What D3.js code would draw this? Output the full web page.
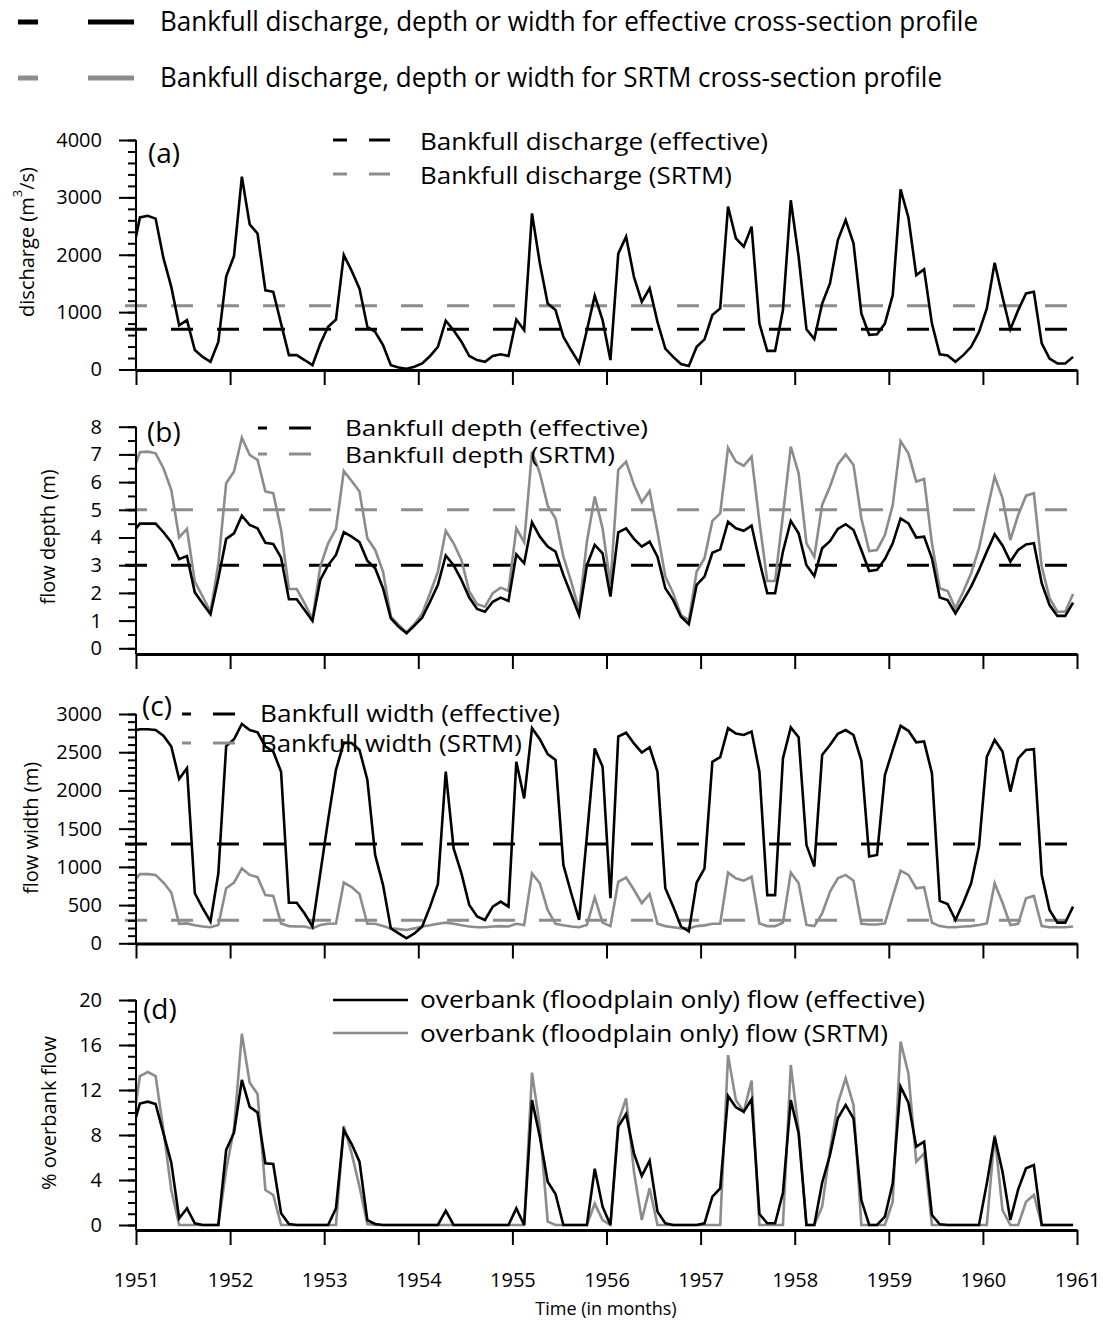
<!DOCTYPE html>
<html>
<head>
<meta charset="utf-8">
<script src="https://cdn.jsdelivr.net/npm/d3@7"></script>
<style>
  body { margin: 0; background: #fff; }
  svg { display: block; font-family: "Open Sans", sans-serif; }
</style>
</head>
<body>
<script>
// monthly values, mid-month; first entry is Dec 1950 (only its segment into Jan 1951 shows)
var discharge = [1980,
  2650, 2680, 2630, 1940, 1440, 770, 860, 340, 220, 135, 480, 1620,
  1980, 3360, 2530, 2370, 1380, 1355, 800, 250, 250, 165, 75, 450,
  745, 870, 1995, 1720, 1410, 745, 655, 425, 75, 35, 12, 47,
  105, 235, 395, 850, 685, 485, 235, 165, 135, 235, 265, 235,
  870, 685, 2720, 1850, 1150, 1035, 570, 335, 115, 685, 1285, 860,
  165, 2020, 2315, 1615, 1180, 1415, 830, 365, 220, 95, 60, 395,
  525, 950, 1065, 2840, 2285, 2140, 2490, 800, 325, 325, 1035, 2950,
  1965, 700, 530, 1150, 1500, 2255, 2605, 2200, 975, 605, 615, 800,
  1295, 3140, 2650, 1645, 1745, 800, 265, 245, 135, 250, 395, 655,
  1065, 1860, 1265, 700, 1035, 1325, 1355, 455, 190, 105, 105, 220];

var depthEff = [4.16,
  4.5, 4.5, 4.5, 4.19, 3.83, 3.22, 3.33, 2.02, 1.62, 1.23, 2.53, 3.95,
  4.15, 4.79, 4.45, 4.33, 3.81, 3.77, 3.27, 1.77, 1.77, 1.38, 0.99, 2.47,
  3.0, 3.37, 4.19, 4.03, 3.83, 3.16, 2.89, 2.17, 1.08, 0.78, 0.54, 0.82,
  1.11, 1.68, 2.29, 3.35, 3.0, 2.47, 1.83, 1.42, 1.32, 1.68, 1.83, 1.71,
  3.39, 3.07, 4.55, 4.03, 3.67, 3.49, 2.65, 1.93, 1.2, 3.0, 3.73, 3.43,
  1.87, 4.19, 4.33, 3.95, 3.67, 3.85, 3.31, 2.17, 1.74, 1.14, 0.87, 2.29,
  2.59, 3.45, 3.57, 4.57, 4.33, 4.24, 4.43, 3.15, 1.99, 1.99, 3.49, 4.6,
  4.15, 3.0, 2.61, 3.61, 3.87, 4.31, 4.48, 4.27, 3.55, 2.79, 2.83, 3.22,
  3.79, 4.69, 4.51, 4.0, 4.03, 3.25, 1.83, 1.74, 1.26, 1.74, 2.23, 2.83,
  3.49, 4.12, 3.71, 3.13, 3.55, 3.75, 3.79, 2.35, 1.56, 1.17, 1.17, 1.65];

var depthSrtm = [6.28,
  7.08, 7.1, 7.04, 6.5, 5.72, 4.0, 4.31, 2.41, 1.87, 1.32, 3.05, 5.96,
  6.38, 7.6, 6.98, 6.8, 5.66, 5.6, 4.27, 2.14, 2.14, 1.62, 1.06, 2.95,
  3.79, 4.31, 6.4, 6.04, 5.66, 3.97, 3.55, 2.77, 1.14, 0.84, 0.58, 0.87,
  1.26, 1.99, 2.77, 4.24, 3.79, 3.19, 2.05, 1.59, 1.5, 1.99, 2.19, 2.07,
  4.33, 3.83, 7.1, 6.32, 5.15, 4.69, 3.31, 2.41, 1.38, 3.85, 5.48, 4.33,
  2.3, 6.44, 6.74, 5.9, 5.27, 5.68, 4.21, 2.59, 1.99, 1.2, 1.02, 2.77,
  3.25, 4.6, 4.87, 7.24, 6.74, 6.59, 6.92, 4.57, 2.43, 2.43, 4.81, 7.28,
  6.32, 3.79, 3.31, 5.17, 5.84, 6.64, 7.0, 6.62, 4.69, 3.51, 3.55, 4.09,
  5.17, 7.48, 7.04, 6.02, 6.11, 3.79, 2.17, 2.07, 1.44, 2.05, 2.71, 3.61,
  4.93, 6.2, 5.42, 3.91, 4.81, 5.51, 5.6, 2.95, 1.81, 1.32, 1.32, 1.96];

var widthEff = [2780,
  2800, 2800, 2790, 2715, 2575, 2150, 2290, 655, 460, 285, 915, 2580,
  2670, 2870, 2790, 2760, 2575, 2510, 2245, 530, 530, 390, 220, 915,
  1615, 2270, 2625, 2620, 2530, 2140, 1155, 765, 195, 130, 65, 130,
  220, 480, 775, 2245, 1245, 915, 500, 350, 305, 480, 545, 480,
  2375, 1895, 2815, 2670, 2475, 2400, 1025, 655, 305, 1400, 2550, 2310,
  590, 2705, 2755, 2615, 2495, 2565, 2245, 720, 480, 220, 155, 795,
  980, 2375, 2435, 2815, 2745, 2725, 2770, 2245, 630, 630, 2420, 2825,
  2695, 1285, 1005, 2465, 2595, 2740, 2790, 2725, 2390, 1135, 1155, 2200,
  2530, 2845, 2780, 2630, 2640, 2225, 555, 515, 305, 530, 785, 1265,
  2440, 2660, 2510, 1985, 2420, 2530, 2540, 895, 435, 270, 270, 480];

var widthSrtm = [790,
  905, 905, 895, 795, 665, 255, 260, 235, 220, 210, 240, 720,
  795, 980, 895, 865, 630, 620, 260, 225, 220, 220, 195, 240,
  255, 260, 795, 735, 645, 255, 255, 225, 195, 185, 175, 195,
  220, 235, 255, 270, 255, 235, 220, 210, 210, 220, 225, 220,
  255, 240, 915, 785, 435, 255, 235, 220, 210, 240, 600, 270,
  225, 805, 860, 700, 525, 645, 255, 225, 210, 195, 195, 225,
  235, 255, 255, 925, 850, 820, 870, 260, 225, 225, 270, 925,
  785, 240, 225, 390, 675, 850, 895, 820, 255, 245, 245, 260,
  610, 950, 895, 720, 735, 270, 225, 210, 210, 220, 225, 240,
  260, 785, 530, 240, 255, 590, 620, 225, 210, 210, 210, 220];

var overEff = [8.4,
  10.8, 10.96, 10.76, 8.15, 5.54, 0.6, 1.48, 0.15, 0, 0, 0, 6.67,
  8.2, 12.9, 10.5, 10.0, 5.48, 5.42, 1.04, 0.09, 0, 0, 0, 0,
  0, 1.48, 8.44, 7.2, 5.63, 0.44, 0.09, 0, 0, 0, 0, 0,
  0, 0, 0, 1.27, 0, 0, 0, 0, 0, 0, 0, 0,
  1.48, 0, 11.1, 7.85, 3.85, 2.76, 0, 0, 0, 0, 5.0, 1.63,
  0, 8.74, 9.87, 6.37, 4.36, 5.72, 1.19, 0.15, 0, 0, 0, 0,
  0.15, 2.52, 3.26, 11.47, 10.46, 10.07, 11.17, 0.98, 0.15, 0.15, 2.87, 11.11,
  8.15, 0, 0, 3.76, 6.22, 9.48, 10.67, 9.48, 2.22, 0, 0, 0.74,
  3.7, 12.3, 10.87, 6.96, 7.4, 0.89, 0.06, 0, 0, 0, 0, 0,
  3.7, 7.85, 4.74, 0.44, 3.17, 5.04, 5.33, 0, 0, 0, 0, 0];

var overSrtm = [8.4,
  13.24, 13.6, 13.24, 8.44, 3.11, 0, 0, 0, 0, 0, 0, 4.89,
  8.6, 17.0, 12.65, 11.64, 3.11, 2.67, 0, 0, 0, 0, 0, 0,
  0, 0, 8.8, 6.37, 3.41, 0.09, 0, 0, 0, 0, 0, 0,
  0, 0, 0, 0, 0, 0, 0, 0, 0, 0, 0, 0,
  0, 0, 13.54, 8.74, 0.3, 0, 0, 0, 0, 0, 1.9, 0.44,
  0, 9.19, 11.26, 4.74, 0.44, 3.26, 0, 0, 0, 0, 0, 0,
  0, 0, 0, 15.1, 11.1, 10.07, 12.83, 0, 0, 0, 0, 14.22,
  8.44, 0, 0, 1.63, 6.67, 10.81, 13.04, 10.67, 0, 0, 0, 0,
  2.07, 16.3, 13.48, 5.63, 6.37, 0, 0, 0, 0, 0, 0, 0,
  0, 8.0, 1.33, 0, 0, 2.07, 2.67, 0, 0, 0, 0, 0];

// bankfull thresholds [effective, SRTM]
var bankQ = [700, 1110];
var bankD = [3, 5];
var bankW = [1300, 300];

var years = d3.range(1951, 1962);
var months = discharge.map(function(d, i) { return 1951 + (i - 0.5) / 12; });

var black = "#000", grey = "#8c8c8c";

var svg = d3.select("body").append("svg")
    .attr("width", 1103)
    .attr("height", 1321);

var x = d3.scaleLinear().domain([1951, 1961]).range([136, 1077]);

var panels = [
  { tag: "(a)", top: 140, zero: 369.5, axisY: 370, max: 4000, major: 1000, minor: 200,
    series: [discharge], colors: [black], bank: bankQ, titleX: 26, titleY: 242,
    title: ["discharge (m", "3", "/s)"], labelX: 148, labelY: 163,
    legend: { x0: 333, x1: 390, tx: 420, ly: [140, 174], ty: [150, 184], off: 8, solid: false, fs: 23,
      text: ["Bankfull discharge (effective)", "Bankfull discharge (SRTM)"], tl: [348, 312] } },
  { tag: "(b)", top: 426.7, zero: 648.3, axisY: 654, max: 8, major: 1, minor: 0.5,
    series: [depthSrtm, depthEff], colors: [grey, black], bank: bankD, titleX: 47, titleY: 537,
    title: ["flow depth (m)"], labelX: 147, labelY: 442,
    legend: { x0: 258, x1: 313, tx: 345, ly: [428, 454], ty: [436, 463], off: 13, solid: false, fs: 21,
      text: ["Bankfull depth (effective)", "Bankfull depth (SRTM)"], tl: [303, 270] } },
  { tag: "(c)", top: 714, zero: 943.3, axisY: 943.5, max: 3000, major: 500, minor: 100,
    series: [widthSrtm, widthEff], colors: [grey, black], bank: bankW, titleX: 30, titleY: 828,
    title: ["flow width (m)"], labelX: 142, labelY: 716,
    legend: { x0: 182, x1: 238, tx: 260, ly: [714, 743], ty: [722, 752], off: 13, solid: false, fs: 23,
      text: ["Bankfull width (effective)", "Bankfull width (SRTM)"], tl: [300, 262] } },
  { tag: "(d)", top: 1000, zero: 1225, axisY: 1230, max: 20, major: 4, minor: 1,
    series: [overSrtm, overEff], colors: [grey, black], bank: null, titleX: 48, titleY: 1113,
    title: ["% overbank flow"], labelX: 143, labelY: 1019,
    legend: { x0: 333, x1: 408, tx: 420, ly: [1000, 1033], ty: [1008, 1042], off: 0, solid: true, fs: 23,
      text: ["overbank (floodplain only) flow (effective)", "overbank (floodplain only) flow (SRTM)"], tl: [505, 468] } }
];

// top legend
var topRows = [
  { c: black, y: 22, ty: 31, text: "Bankfull discharge, depth or width for effective cross-section profile", tl: 818 },
  { c: grey, y: 78, ty: 87, text: "Bankfull discharge, depth or width for SRTM cross-section profile", tl: 782 }
];
var topLeg = svg.append("g").selectAll("g").data(topRows).enter().append("g");
topLeg.append("line").attr("x1", 18).attr("x2", 38).attr("y1", function(d){return d.y;}).attr("y2", function(d){return d.y;})
    .attr("stroke", function(d){return d.c;}).attr("stroke-width", 5);
topLeg.append("line").attr("x1", 88).attr("x2", 134).attr("y1", function(d){return d.y;}).attr("y2", function(d){return d.y;})
    .attr("stroke", function(d){return d.c;}).attr("stroke-width", 5);
topLeg.append("text").attr("x", 160).attr("y", function(d){return d.ty;})
    .attr("font-size", 27).attr("textLength", function(d){return d.tl;}).attr("lengthAdjust", "spacingAndGlyphs")
    .text(function(d){return d.text;});

panels.forEach(function(p, pi) {
  var y = d3.scaleLinear().domain([0, p.max]).range([p.zero, p.top]);
  var g = svg.append("g");

  var clipId = "clip" + pi;
  svg.append("clipPath").attr("id", clipId).append("rect")
      .attr("x", x(1951)).attr("y", p.top - 20)
      .attr("width", x(1961) - x(1951)).attr("height", p.axisY - p.top + 20);

  // bankfull dashed lines
  if (p.bank) {
    g.selectAll(".bank").data([p.bank[1], p.bank[0]]).enter().append("line")
        .attr("x1", 125).attr("x2", 1068)
        .attr("y1", function(d){return y(d);}).attr("y2", function(d){return y(d);})
        .attr("stroke", function(d, i){return i === 0 ? grey : black;})
        .attr("stroke-width", 3)
        .attr("stroke-dasharray", "22,24");
  }

  // series lines
  var line = d3.line().x(function(d, i){return x(months[i]);}).y(function(d){return y(d);});
  g.append("g").attr("clip-path", "url(#" + clipId + ")")
    .selectAll("path").data(p.series).enter().append("path")
      .attr("d", line)
      .attr("fill", "none")
      .attr("stroke", function(d, i){return p.colors[i];})
      .attr("stroke-width", 2.6)
      .attr("stroke-linejoin", "miter");

  // y axis: minor and major ticks
  var minors = d3.range(0, p.max + p.minor / 2, p.minor);
  var majors = d3.range(0, p.max + p.major / 2, p.major);
  var yMinor = g.append("g").attr("transform", "translate(" + x(1951) + ",0)")
      .call(d3.axisLeft(y).tickValues(minors).tickSize(8).tickFormat(""));
  var yMajor = g.append("g").attr("transform", "translate(" + x(1951) + ",0)")
      .call(d3.axisLeft(y).tickValues(majors).tickSize(17).tickPadding(17).tickFormat(d3.format("d")));
  [yMinor, yMajor].forEach(function(a) {
    a.select(".domain").remove();
    a.selectAll("line").attr("stroke-width", 2);
    a.selectAll("text").attr("font-size", 20).attr("fill", black).attr("font-family", "Open Sans");
  });
  g.append("line").attr("x1", x(1951)).attr("x2", x(1951))
      .attr("y1", y(p.max)).attr("y2", p.axisY)
      .attr("stroke", black).attr("stroke-width", 2);

  // x axis
  var xa = g.append("g").attr("transform", "translate(0," + p.axisY + ")")
      .call(d3.axisBottom(x).tickValues(years).tickSize(15).tickSizeOuter(0).tickPadding(28)
            .tickFormat(pi === 3 ? d3.format("d") : function(){ return ""; }));
  xa.select(".domain").attr("stroke-width", 3);
  xa.selectAll(".tick line").attr("stroke-width", 2);
  xa.selectAll("text").attr("font-size", 20).attr("fill", black).attr("font-family", "Open Sans");

  // y title
  var t = g.append("text")
      .attr("transform", "translate(" + p.titleX + "," + p.titleY + ") rotate(-90)")
      .attr("text-anchor", "middle")
      .attr("dominant-baseline", "central")
      .attr("font-size", 20);
  t.append("tspan").text(p.title[0]);
  if (p.title.length > 1) {
    t.append("tspan").attr("font-size", 13).attr("baseline-shift", "super").text(p.title[1]);
    t.append("tspan").text(p.title[2]);
  }

  // panel tag
  g.append("text").attr("x", p.labelX).attr("y", p.labelY).attr("font-size", 28).text(p.tag);

  // panel legend
  var L = p.legend;
  var rows = g.append("g").selectAll("g").data([0, 1]).enter().append("g");
  rows.append("line")
      .attr("x1", L.x0).attr("x2", L.x1)
      .attr("y1", function(d){return L.ly[d];}).attr("y2", function(d){return L.ly[d];})
      .attr("stroke", function(d){return d === 0 ? black : grey;})
      .attr("stroke-width", L.solid ? 2.6 : 3)
      .attr("stroke-dasharray", L.solid ? null : "22,22")
      .attr("stroke-dashoffset", L.off);
  rows.append("text")
      .attr("x", L.tx).attr("y", function(d){return L.ty[d];})
      .attr("font-size", L.fs)
      .attr("textLength", function(d){return L.tl[d];})
      .attr("lengthAdjust", "spacingAndGlyphs")
      .text(function(d){return L.text[d];});
});

svg.append("text").attr("x", 606).attr("y", 1315).attr("text-anchor", "middle")
    .attr("font-size", 18).text("Time (in months)");
</script>
</body>
</html>
